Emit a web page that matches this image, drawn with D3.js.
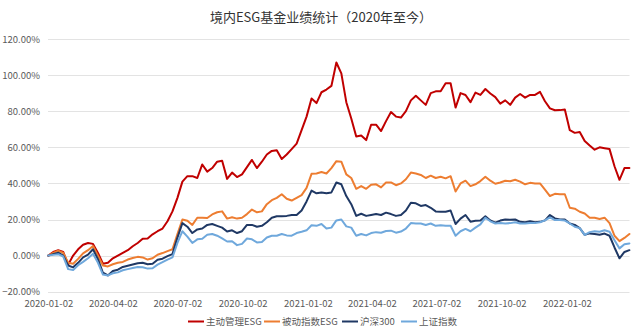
<!DOCTYPE html>
<html><head><meta charset="utf-8">
<script src="https://cdn.jsdelivr.net/npm/d3@7"></script>
<style>
html,body{margin:0;padding:0;background:#fff;}
svg{display:block;font-family:"Noto Sans CJK SC","Noto Sans",sans-serif;}
</style></head>
<body><svg id="c" width="640" height="335"></svg>
<script>
const title = "境内ESG基金业绩统计（2020年至今）";
const seriesNames = ["主动管理ESG","被动指数ESG","沪深300","上证指数"];
const seriesColors = ["#C00000","#ED7D31","#1F3864","#6FA8DC"];
const yTicks = [-20,0,20,40,60,80,100,120];
const xTickLabels = ["2020-01-02","2020-04-02","2020-07-02","2020-10-02","2021-01-02","2021-04-02","2021-07-02","2021-10-02","2022-01-02"];
const dates = ["2020-01-02","2020-01-09","2020-01-16","2020-01-23","2020-01-30","2020-02-06","2020-02-13","2020-02-20","2020-02-27","2020-03-05","2020-03-12","2020-03-19","2020-03-26","2020-04-02","2020-04-09","2020-04-16","2020-04-23","2020-04-30","2020-05-07","2020-05-14","2020-05-21","2020-05-28","2020-06-04","2020-06-11","2020-06-18","2020-06-25","2020-07-02","2020-07-09","2020-07-16","2020-07-23","2020-07-30","2020-08-06","2020-08-13","2020-08-20","2020-08-27","2020-09-03","2020-09-10","2020-09-17","2020-09-24","2020-10-01","2020-10-08","2020-10-15","2020-10-22","2020-10-29","2020-11-05","2020-11-12","2020-11-19","2020-11-26","2020-12-03","2020-12-10","2020-12-17","2020-12-24","2020-12-31",
"2021-01-07","2021-01-14","2021-01-21","2021-01-28","2021-02-04","2021-02-11","2021-02-18","2021-02-25","2021-03-04","2021-03-11","2021-03-18","2021-03-25","2021-04-01","2021-04-08","2021-04-15","2021-04-22","2021-04-29","2021-05-06","2021-05-13","2021-05-20","2021-05-27","2021-06-03","2021-06-10","2021-06-17","2021-06-24","2021-07-01","2021-07-08","2021-07-15","2021-07-22","2021-07-29","2021-08-05","2021-08-12","2021-08-19","2021-08-26","2021-09-02","2021-09-09","2021-09-16","2021-09-23","2021-09-30","2021-10-07","2021-10-14","2021-10-21","2021-10-28","2021-11-04","2021-11-11","2021-11-18","2021-11-25","2021-12-02","2021-12-09","2021-12-16","2021-12-23","2021-12-30",
"2022-01-06","2022-01-13","2022-01-20","2022-01-27","2022-02-03","2022-02-10","2022-02-17","2022-02-24","2022-03-03","2022-03-10","2022-03-17","2022-03-24","2022-03-31"];
const activeESG = [0,2,3,2,-5,0,3.5,6,7,6.5,
1.5,-4.5,-4,-1.5,0,1.5,3,5.2,7,9.3,
9.5,11.8,13.5,15,19,24.5,32,41,44,44,
43,50.5,46.5,48.5,52,52.5,42.5,46,43.5,45,
49,53,48.5,52,56,58,58.4,53.5,56,59,
62,69.5,77,87,84.5,90.5,92,94,107,101,
85,76,66,66.5,64,72.5,72.5,69,74.5,79.5,
77,76.5,80,86,88.5,86,83.5,90,91,91,
95.5,95.5,82,90,89,85,90.3,89,92.3,89.8,
87.8,84.2,86,83.5,87.5,89.5,87.5,89,89,90.7,
85.5,81.6,80.5,80.6,81,69.5,68,68.5,63.5,61,
58.7,60,59.5,59,49.5,42,48.5,48.5];
const passiveESG = [0,1.5,2.7,1.5,-4,-4.5,-1.8,1.2,3,5.3,
0,-5.5,-6,-4.8,-4,-3.5,-2.2,-1.3,-0.7,-1,
-2.2,-1.5,0.5,1.4,2.5,3.5,12,20,19.3,17,
21,21,20.8,22.8,24,24.5,20.5,21.2,20.5,21,
23,25.5,24,24.5,28.5,30.7,32,34,31.5,30.5,
32,33.5,37.5,45.3,45.5,46.3,45.5,48.5,52.3,52,
45,43,37,38.5,37,39.3,39.5,37.8,40.5,40.5,
39,40,42.3,46,45.5,44.7,43,44.3,43,43.7,
42.8,44,35.5,40,41.5,38.5,39.5,41.3,43.7,41.5,
39.8,40.5,41.5,41.2,42,41,39.5,40.3,40,40,
36.5,33,34.2,34,34,26.5,26,24.3,23.3,21,
21,20.3,21,18,11,8,9.8,12];
const hs300 = [0,0.8,1.6,0,-5.5,-6.5,-4,-1,0.5,3.5,
-2,-9.5,-11,-8.5,-7.8,-6.3,-5.6,-4.9,-4.2,-4,
-4.8,-4.5,-2.3,-1.7,-0.3,0.8,10,18,16,12.5,
14.5,15,17,17.5,16.5,15.5,13.3,14,12.5,13.5,
17,17,16,16.5,18.5,21,21.8,21.8,22,22.5,
22.5,25,30,36,34.5,35,34.5,35,40.5,39.5,
33,28.5,22,23.2,22,22.5,23,22.5,23.8,23,
22,22.5,25,29.3,29,27.5,28,26.5,24.5,24.3,
24.3,25,17.5,20.5,22.5,18.8,19.3,19.5,21.8,19.5,
18.3,19.4,20,19.8,20,18.7,18.5,19,18.5,18.7,
19.5,22.5,20.6,20,20,17.8,17,15.2,11.5,12.3,
12,11.5,12.2,11,4.5,-1.5,2,3];
const szIndex = [0,0.4,0.8,-0.5,-7.5,-8,-5.3,-3.5,-1.5,1,
-4,-10.5,-11,-9.8,-9.3,-8.1,-7.5,-6.9,-6.3,-6.5,
-7.2,-7,-5,-3.6,-2.2,-1,7,13.5,10.5,7,
9,9.3,11.5,12,11,9.5,7.8,8,5.8,6.5,
9.5,9,7.3,7.5,10,11,11,12,11.2,11,
12.5,13.2,14,16.8,16.5,17.5,15,15.5,19.5,20,
16.2,15.5,11,12,11.2,12.5,13,12.7,13.6,13.8,
12.7,13.3,15,18,17.8,17.8,17,17.8,16.5,16.8,
16.5,16.5,11,13.5,14.8,13.5,15.5,17.3,21,19,
17.8,18,17.8,18,18.5,17.8,17.8,18.1,18,18.5,
19.5,21.2,19.7,19.7,19.4,17.8,16,15.2,11.5,13,
13.5,13.2,14,13.2,8.5,4,6.3,6.7];

const seriesValues = [activeESG, passiveESG, hs300, szIndex];
const parse = d3.timeParse("%Y-%m-%d");
const dateObjs = dates.map(parse);

const svg = d3.select("#c");
const x = d3.scaleTime().domain([dateObjs[0], dateObjs[dateObjs.length-1]]).range([48.3, 629.4]);
const y = d3.scaleLinear().domain([-20,120]).range([291.7, 39]);

// title
svg.append("text").attr("x",321).attr("y",22).attr("text-anchor","middle")
  .attr("font-size",13).attr("fill","#333333").text(title);

// gridlines
svg.append("g").selectAll("line").data(yTicks).join("line")
  .attr("x1",48).attr("x2",629.5)
  .attr("y1",d=>Math.round(y(d))+0.5).attr("y2",d=>Math.round(y(d))+0.5)
  .attr("stroke","#E3E3E3").attr("stroke-width",1);

// y axis labels
const yAxis = d3.axisLeft(y).tickValues(yTicks).tickSize(0).tickPadding(0)
  .tickFormat(d=>d3.format(".2f")(d)+"%");
const gy = svg.append("g").attr("transform","translate(40,0)").call(yAxis);
gy.select(".domain").remove();
gy.selectAll("text").attr("font-size",9.5).attr("fill","#595959")
  .attr("font-family",'"Noto Sans CJK SC","Noto Sans",sans-serif');

// x axis labels
const xAxis = d3.axisBottom(x).tickValues(xTickLabels.map(parse)).tickSize(0).tickPadding(0)
  .tickFormat(d3.timeFormat("%Y-%m-%d"));
const gx = svg.append("g").attr("transform","translate(0,300)").call(xAxis);
gx.select(".domain").remove();
gx.selectAll("text").attr("font-size",9.5).attr("fill","#595959")
  .attr("font-family",'"Noto Sans CJK SC","Noto Sans",sans-serif');

// lines
const line = d3.line().x((d,i)=>x(dateObjs[i])).y(d=>y(d));
seriesValues.forEach((vals,si)=>{
  svg.append("path").datum(vals).attr("d",line)
    .attr("fill","none").attr("stroke",seriesColors[si]).attr("stroke-width",2)
    .attr("stroke-linejoin","round").attr("stroke-linecap","round");
});

// legend
const legendX = [188, 264, 342, 401];
const lg = svg.append("g");
seriesNames.forEach((n,i)=>{
  lg.append("line").attr("x1",legendX[i]).attr("x2",legendX[i]+16)
    .attr("y1",321.5).attr("y2",321.5).attr("stroke",seriesColors[i]).attr("stroke-width",2);
  lg.append("text").attr("x",legendX[i]+18).attr("y",325).attr("font-size",9.5)
    .attr("fill","#595959").text(n);
});
</script></body></html>
